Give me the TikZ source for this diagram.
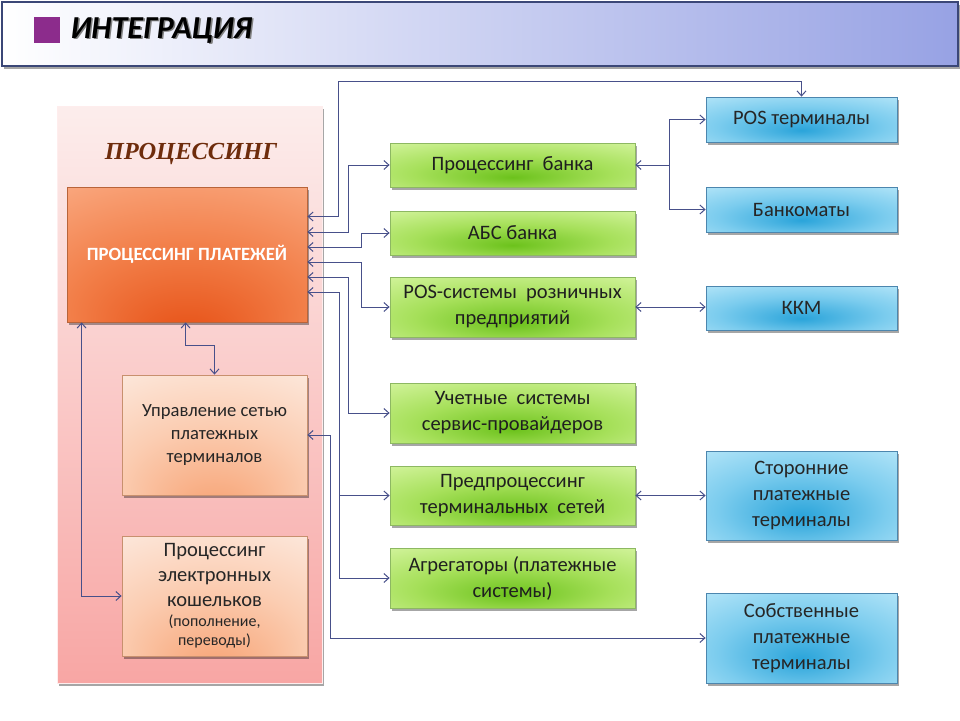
\documentclass[tikz,border=0pt]{standalone}
\usepackage{fontspec}
\setmainfont{Carlito}
\newfontfamily\serifbi{Liberation Serif}
\usetikzlibrary{arrows.meta,shadows,calc}

\definecolor{lnc}{HTML}{47508A}
\definecolor{grin}{HTML}{6CC21C}
\definecolor{grmid}{HTML}{A6E05A}
\definecolor{grout}{HTML}{DDF8AC}
\definecolor{grbord}{HTML}{8DB862}
\definecolor{blin}{HTML}{2AA4DA}
\definecolor{blmid}{HTML}{7BCCEE}
\definecolor{blout}{HTML}{C4ECFB}
\definecolor{blbord}{HTML}{4C86AE}
\definecolor{orin}{HTML}{E64F14}
\definecolor{ormid}{HTML}{F27E48}
\definecolor{orout}{HTML}{FBB08A}
\definecolor{orbord}{HTML}{B8643A}
\definecolor{pkin}{HTML}{F7A070}
\definecolor{pkmid}{HTML}{FBCDB2}
\definecolor{pkout}{HTML}{FDEDE4}
\definecolor{pkbord}{HTML}{C8906E}
\definecolor{pnltop}{HTML}{FCEDEC}
\definecolor{pnlbot}{HTML}{F8A6A4}
\definecolor{ttl}{HTML}{6E2C0C}
\definecolor{purp}{HTML}{8C2C8C}
\definecolor{barR}{HTML}{97A2E4}
\definecolor{barB}{HTML}{3B4777}

\pgfdeclareradialshading{gshade}{\pgfpoint{0bp}{-14bp}}{color(0bp)=(grin); color(20bp)=(grmid); color(46bp)=(grout); color(72bp)=(grout)}
\pgfdeclareradialshading{bshade}{\pgfpoint{0bp}{-12bp}}{color(0bp)=(blin); color(22bp)=(blmid); color(46bp)=(blout); color(72bp)=(blout)}
\pgfdeclareradialshading{oshade}{\pgfpoint{0bp}{-32bp}}{color(0bp)=(orin); color(24bp)=(ormid); color(50bp)=(orout); color(72bp)=(orout)}
\pgfdeclareradialshading{pshade}{\pgfpoint{0bp}{-34bp}}{color(0bp)=(pkin); color(26bp)=(pkmid); color(50bp)=(pkout); color(72bp)=(pkout)}

\newcommand{\shadowtext}[1]{\makebox[0pt][l]{\hspace{1.6pt}\raisebox{-1.8pt}{\color{black!50}#1}}#1}
\newcommand{\smalltxt}[1]{{\fontsize{16}{19}\selectfont #1}}

\begin{document}
\begin{tikzpicture}[x=1pt,y=-1pt,
  shd/.style={drop shadow={shadow xshift=1.5pt,shadow yshift=-2.5pt,opacity=.35,fill=black}},
  gbox/.style={draw=grbord,line width=.8,shading=gshade,shd,minimum width=245,align=center,
    text=black!88,inner sep=2pt,font=\fontsize{20.5}{26}\selectfont},
  bbox/.style={draw=blbord,line width=.8,shading=bshade,shd,minimum width=191,align=center,
    text=black!85,inner sep=2pt,font=\fontsize{20.5}{26}\selectfont},
  pbox/.style={draw=pkbord,line width=.8,shading=pshade,shd,minimum width=185,minimum height=120,
    align=center,text=black!85,inner sep=2pt},
  conn/.style={draw=lnc,line width=1,>={Straight Barb[length=5pt,width=9pt]}}
]
\useasboundingbox (0,0) rectangle (960,720);
\fill[white] (0,0) rectangle (960,720);

% title bar
\node[shd,left color=white,right color=barR,draw=barB,line width=1.2,minimum width=956,minimum height=64,
  inner sep=0pt] (bar) at (480,34) {};
\node[fill=purp,minimum size=26,inner sep=0pt] (sq) at (47,30) {};
\node[anchor=west,text=black,font=\fontsize{32}{34}\selectfont\bfseries\itshape] (ttl) at (67,31) {\shadowtext{ИНТЕГРАЦИЯ}};

% left panel
\node[shd,top color=pnltop,bottom color=pnlbot,draw=white!80!pnlbot,line width=1,minimum width=265,minimum height=577,inner sep=0pt] (panel) at (189.5,394.5) {};
\node[text=ttl,font=\fontsize{24.5}{27}\selectfont\serifbi\bfseries\itshape] (ptitle) at (191,154) {ПРОЦЕССИНГ};

\node[draw=orbord,line width=.8,shading=oshade,shd,minimum width=240,minimum height=135,text=white,
  font=\fontsize{18.7}{22}\selectfont\bfseries] (pp) at (187,254.5) {ПРОЦЕССИНГ ПЛАТЕЖЕЙ};
\node[pbox,font=\fontsize{18.6}{23}\selectfont] (upr) at (214.5,435) {Управление сетью\\платежных\\терминалов};
\node[pbox,font=\fontsize{20.5}{25}\selectfont] (ew) at (214.5,596) {Процессинг\\электронных\\кошельков\\[-5pt]\smalltxt{(пополнение,}\\[-6pt]\smalltxt{переводы)}};

% green boxes
\node[gbox,minimum height=44] (pb) at (512.5,165) {Процессинг\ \ банка};
\node[gbox,minimum height=44] (abs) at (512.5,233) {АБС банка};
\node[gbox,minimum height=60] (possys) at (512.5,307) {POS-системы\ \ розничных\\предприятий};
\node[gbox,minimum height=60] (uchet) at (512.5,413) {Учетные\ \ системы\\сервис-провайдеров};
\node[gbox,minimum height=59] (pred) at (512.5,495.5) {Предпроцессинг\\терминальных\ \ сетей};
\node[gbox,minimum height=60] (agg) at (512.5,578) {Агрегаторы (платежные\\системы)};

% blue boxes
\node[bbox,minimum height=45] (posT) at (801.5,119.5) {POS терминалы};
\node[bbox,minimum height=45] (bank) at (801.5,209.5) {Банкоматы};
\node[bbox,minimum height=44] (kkm) at (801.5,308) {ККМ};
\node[bbox,minimum height=89] (sto) at (801.5,495.5) {Сторонние\\платежные\\терминалы};
\node[bbox,minimum height=90] (sob) at (801.5,638) {Собственные\\платежные\\терминалы};

% connectors from the payment processing box
\draw[conn,<->] ([yshift=38pt]pp.east) -- ++(31,0) |- ([yshift=15pt]posT.north) -- (posT.north);
\draw[conn,<->] ([yshift=22.5pt]pp.east) -- ++(41,0) |- (pb.west);
\draw[conn,<->] ([yshift=7.5pt]pp.east) -- ++(54,0) |- (abs.west);
\draw[conn,<->] ([yshift=-7.5pt]pp.east) -- ++(54,0) |- (possys.west);
\draw[conn,<->] ([yshift=-22.5pt]pp.east) -- ++(41,0) |- (uchet.west);
\draw[conn,<->] ([yshift=-37.5pt]pp.east) -- ++(32,0) coordinate (j6) |- (agg.west);
\draw[conn,->] (j6 |- pred.west) -- (pred.west);

% left side links
\draw[conn,<->] (upr.east) -- ++(23,0) |- (sob.west);
\draw[conn,<->] ([xshift=15pt]pp.south west) |- (ew.west);
\draw[conn,<->] ([xshift=119pt]pp.south west) -- ++(0,23) -| (upr.north);

% right side links
\draw[conn,<->] (pb.east) -- ++(34,0) coordinate (jr) |- (posT.west);
\draw[conn,->] (jr) |- (bank.west);
\draw[conn,<->] (possys.east) -- (possys.east -| kkm.west);
\draw[conn,<->] (pred.east) -- (pred.east -| sto.west);
\end{tikzpicture}
\end{document}
